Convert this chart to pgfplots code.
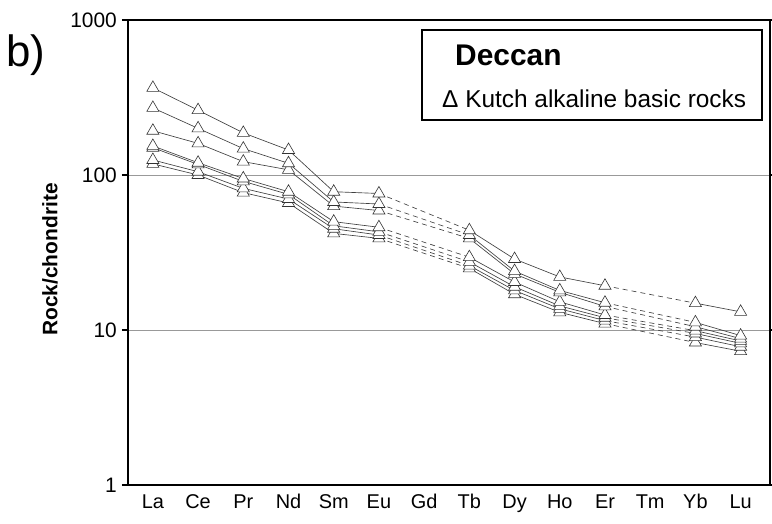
\documentclass[border=0pt]{standalone}
\usepackage{pgfplots}
\pgfplotsset{compat=1.18}
\usepackage{pgfplotstable}
\usepackage{fontspec}
\setmainfont{Liberation Sans}

% REE patterns, chondrite-normalised (Gd and Tm not analysed)
\pgfplotstableread{
x A B C D E F G
0 365 271 193 154 150 125 118
1 262 200 160 120 117 105 100
2 187 148 122 95 91 82 77
3 145 119 108 78 75 70 66
4 78 67 63 50 47 45 42
5 76 65 59 46 43 41 39
6 nan nan nan nan nan nan nan
7 44 41 39 29.5 27.5 26 25
8 28.7 24 23 20.4 19 18 17
9 22 18 17.5 15.2 14.3 13.7 13
10 19.3 15 14.2 12.5 12 11.5 11
11 nan nan nan nan nan nan nan
12 14.9 11.2 10.5 9.9 9.5 9.0 8.3
13 13.1 9.2 8.8 8.5 8.2 7.8 7.3
}\solidtab

% dashed bridges across the missing elements (Eu-Tb, Er-Yb)
\pgfplotstableread{
x A B C D E F G
5 76 65 59 46 43 41 39
7 44 41 39 29.5 27.5 26 25
8 nan nan nan nan nan nan nan
10 19.3 15 14.2 12.5 12 11.5 11
12 14.9 11.2 10.5 9.9 9.5 9.0 8.3
}\dashtab

\begin{document}
\begin{tikzpicture}
\begin{axis}[
  scale only axis,
  width=642bp, height=465bp,
  at={(0,0)}, anchor=south west,
  xmin=-0.55, xmax=13.65,
  ymode=log, ymin=1, ymax=1000,
  xtick={0,...,13},
  xticklabels={La,Ce,Pr,Nd,Sm,Eu,Gd,Tb,Dy,Ho,Er,Tm,Yb,Lu},
  ytick={1,10,100,1000},
  yticklabels={1,10,100,1000},
  yminorticks=false,
  axis line style={line width=1.4bp, black},
  tick align=outside,
  major tick length=6bp,
  ytick style={black, line width=1.2bp},
  xtick style={draw=none},
  ymajorgrids,
  grid style={black!40, line width=0.9bp},
  xticklabel style={font=\fontsize{20}{24}\selectfont},
  yticklabel style={font=\fontsize{21}{25}\selectfont, inner sep=0pt, xshift=-5bp},
  ylabel={\textbf{Rock/chondrite}},
  ylabel style={font=\fontsize{21}{25}\selectfont, at={(axis description cs:-0.1215,0.485)}, anchor=center},
  unbounded coords=jump,
  clip=false,
]
\pgfplotsinvokeforeach{G,F,E,D,C,B,A}{
  \addplot[black!75, line width=0.65bp, dash pattern=on 5bp off 4bp, forget plot] table[x=x, y=#1]{\dashtab};
  \addplot[black!75, line width=0.65bp, mark=triangle*, mark size=7bp,
    mark options={fill=white, draw=black!80, solid, line width=0.6bp}] table[x=x, y=#1]{\solidtab};
}
\end{axis}
% legend box and panel label
\draw[line width=1.5bp] (294bp,365bp) rectangle (634bp,455bp);
\node[anchor=base west, inner sep=0pt, font=\fontsize{30}{34}\selectfont\bfseries] at (327bp,419bp) {Deccan};
\node[anchor=base west, inner sep=0pt, font=\fontsize{24.5}{28}\selectfont] at (314bp,377bp) {Δ Kutch alkaline basic rocks};
\node[anchor=base west, inner sep=0pt, font=\fontsize{44}{48}\selectfont] at (-122bp,418bp) {b)};
\pgfresetboundingbox
\path (-128bp,-39bp) rectangle (644bp,485bp);
\end{tikzpicture}
\end{document}
